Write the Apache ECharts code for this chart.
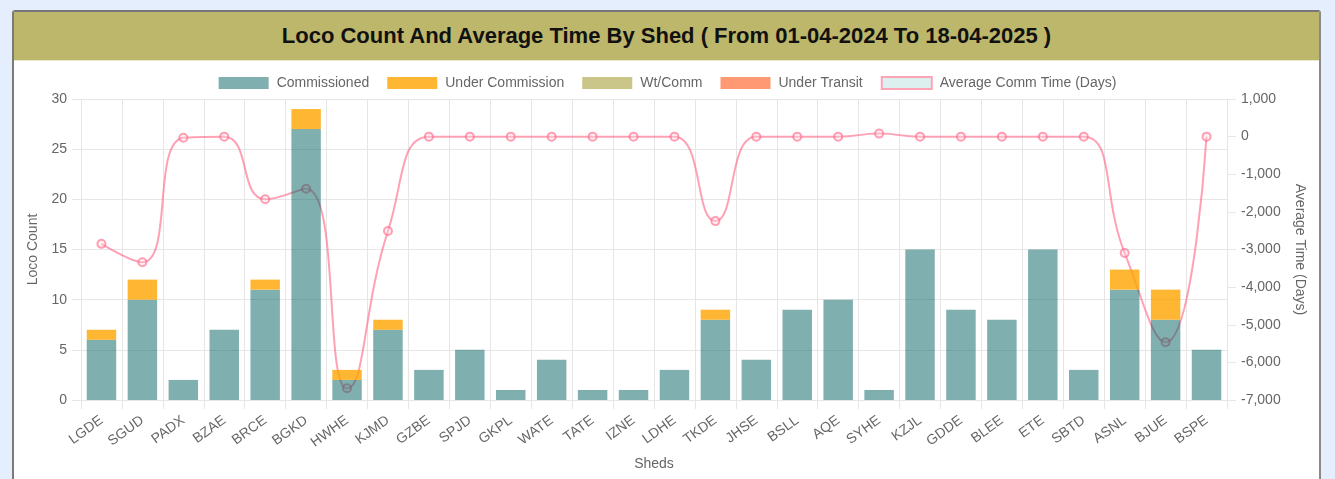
<!DOCTYPE html>
<html><head><meta charset="utf-8">
<script src="https://cdn.jsdelivr.net/npm/echarts@6/dist/echarts.min.js"></script>
<style>
html,body{margin:0;padding:0;width:1335px;height:479px;overflow:hidden;background:#e5eefd;font-family:"Liberation Sans",Arial,Helvetica,sans-serif;}
#card{position:absolute;left:12px;top:10px;width:1305px;height:480px;background:#fff;border-left:2px solid #7a7a7a;border-right:2px solid #8a8a8a;border-top:2px solid #777;border-radius:3px 3px 0 0;}
#hdr{position:absolute;left:0;top:0;right:0;height:48px;background:#bdb76b;border-bottom:1px solid #e9e7cc;display:flex;align-items:center;justify-content:center;font-weight:bold;font-size:22px;color:#111;}
#chart{position:absolute;left:0;top:0;width:1335px;height:479px;}
</style></head>
<body>
<div id="card"><div id="hdr">Loco Count And Average Time By Shed ( From 01-04-2024 To 18-04-2025 )</div></div>
<div id="chart"></div>
<script>
const categories = ["LGDE","SGUD","PADX","BZAE","BRCE","BGKD","HWHE","KJMD","GZBE","SPJD","GKPL","WATE","TATE","IZNE","LDHE","TKDE","JHSE","BSLL","AQE","SYHE","KZJL","GDDE","BLEE","ETE","SBTD","ASNL","BJUE","BSPE"];
const commissioned    = [6,10,2,7,11,27,2,7,3,5,1,4,1,1,3,8,4,9,10,1,15,9,8,15,3,11,8,5];
const underCommission = [1,2,0,0,1,2,1,1,0,0,0,0,0,0,0,1,0,0,0,0,0,0,0,0,0,2,3,0];
const wtComm          = [0,0,0,0,0,0,0,0,0,0,0,0,0,0,0,0,0,0,0,0,0,0,0,0,0,0,0,0];
const underTransit    = [0,0,0,0,0,0,0,0,0,0,0,0,0,0,0,0,0,0,0,0,0,0,0,0,0,0,0,0];
const avgCommTime     = [-2850,-3340,-30,0,-1665,-1385,-6690,-2510,0,0,0,0,0,0,0,-2245,0,0,0,80,0,0,0,0,0,-3095,-5465,0];
const leftTicks = {min:0, max:30, interval:5};
const rightTicks = {min:-7000, max:1000, interval:1000};

const chart = echarts.init(document.getElementById('chart'), null, {renderer:'canvas'});
const gridColor = '#e6e6e6';
const txt = '#666';
const font = '"Liberation Sans", Arial, Helvetica, sans-serif';
function barSeries(name, data, color){
  return {name, type:'bar', stack:'loco', data, yAxisIndex:0, barWidth:'72%', z:3,
    itemStyle:{color}, emphasis:{disabled:true}};
}
chart.setOption({
  animation:false,
  textStyle:{fontFamily:font},
  legend:{top:71, left:'center', itemWidth:50, itemHeight:12, itemGap:18,
    textStyle:{color:txt, fontSize:14, fontFamily:font, padding:[0,0,0,3]},
    data:[
      {name:'Commissioned', icon:'rect'},
      {name:'Under Commission', icon:'rect'},
      {name:'Wt/Comm', icon:'rect'},
      {name:'Under Transit', icon:'rect'},
      {name:'Average Comm Time (Days)', icon:'rect', itemStyle:{color:'#dcf0f0', borderColor:'#ffa3b7', borderWidth:2}}
    ]},
  grid:{left:81, right:108, top:99, bottom:79, containLabel:false},
  xAxis:{type:'category', data:categories, boundaryGap:true,
    name:'Sheds', nameLocation:'middle', nameGap:57, nameTextStyle:{color:txt, fontSize:14, fontFamily:font},
    axisLine:{show:true, lineStyle:{color:gridColor}},
    axisTick:{show:true, length:9, lineStyle:{color:gridColor}},
    splitLine:{show:true, lineStyle:{color:gridColor}},
    axisLabel:{color:txt, fontSize:14, fontFamily:font, rotate:36, margin:19, interval:0}},
  yAxis:[
    {type:'value', position:'left', min:leftTicks.min, max:leftTicks.max, interval:leftTicks.interval,
     name:'Loco Count', nameLocation:'middle', nameGap:41, nameRotate:90,
     nameTextStyle:{color:txt, fontSize:14, fontFamily:font},
     axisLine:{show:true, lineStyle:{color:gridColor}},
     axisTick:{show:true, length:9, lineStyle:{color:gridColor}},
     splitLine:{show:true, lineStyle:{color:gridColor}},
     axisLabel:{color:txt, fontSize:14, fontFamily:font, margin:14}},
    {type:'value', position:'right', min:rightTicks.min, max:rightTicks.max, interval:rightTicks.interval,
     name:'Average Time (Days)', nameLocation:'middle', nameGap:66, nameRotate:-90,
     nameTextStyle:{color:txt, fontSize:14, fontFamily:font},
     axisLine:{show:true, lineStyle:{color:gridColor}},
     axisTick:{show:true, length:9, lineStyle:{color:gridColor}},
     splitLine:{show:false},
     axisLabel:{color:txt, fontSize:14, fontFamily:font, margin:14,
       formatter:v=>v.toLocaleString('en-US')}}
  ],
  series:[
    barSeries('Commissioned', commissioned, 'rgba(0,98,96,0.5)'),
    barSeries('Under Commission', underCommission, 'rgba(255,165,0,0.8)'),
    barSeries('Wt/Comm', wtComm, 'rgba(189,183,107,0.8)'),
    barSeries('Under Transit', underTransit, 'rgba(255,127,80,0.8)'),
    {name:'Average Comm Time (Days)', type:'line', yAxisIndex:1, data:avgCommTime, smooth:0.5, z:2,
     symbol:'circle', symbolSize:8, showAllSymbol:true,
     lineStyle:{color:'rgba(255,99,132,0.6)', width:2},
     itemStyle:{color:'rgba(255,220,228,0.35)', borderColor:'rgba(255,99,132,0.6)', borderWidth:2},
     emphasis:{disabled:true}}
  ]
});
</script>
</body></html>
